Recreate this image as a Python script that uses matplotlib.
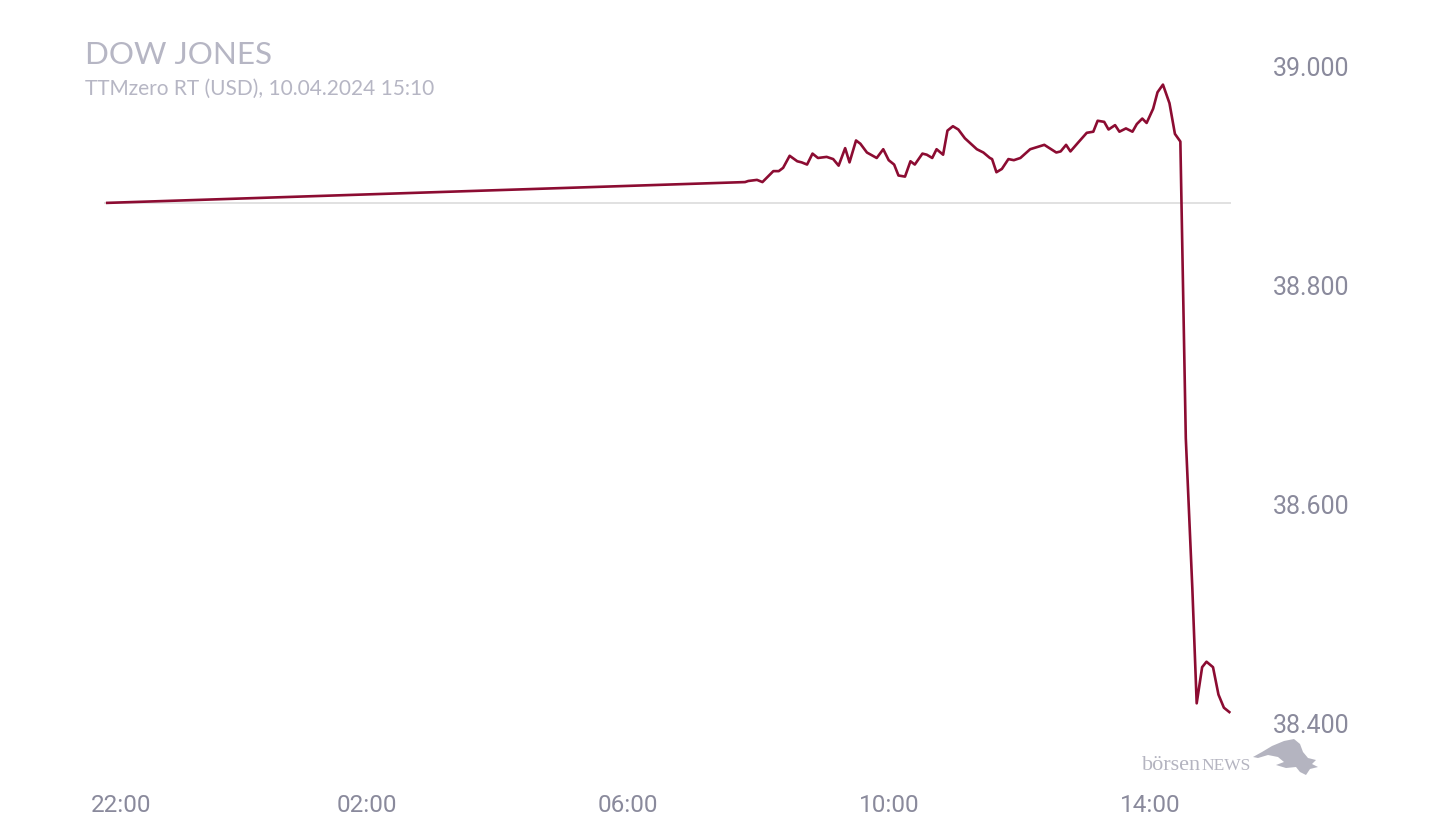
import numpy as np
import pandas as pd
import matplotlib
matplotlib.use("Agg")
import matplotlib.pyplot as plt
import matplotlib.dates as mdates
from matplotlib.patches import Polygon

# --- data ---
times = ["22:03", "07:49", "07:52", "08:00", "08:05", "08:15", "08:20", "08:24", "08:30", "08:37",
         "08:41", "08:46", "08:51", "08:56", "09:04", "09:10", "09:15", "09:21", "09:25", "09:31",
         "09:35", "09:41", "09:50", "09:56", "10:01", "10:06", "10:10", "10:16", "10:21", "10:25",
         "10:32", "10:36", "10:41", "10:45", "10:51", "10:55", "11:00", "11:05", "11:11", "11:22",
         "11:28", "11:34", "11:36", "11:40", "11:45", "11:51", "11:56", "12:02", "12:11", "12:24",
         "12:35", "12:39", "12:44", "12:48", "12:55", "13:03", "13:09", "13:13", "13:19", "13:23",
         "13:29", "13:33", "13:39", "13:45", "13:49", "13:54", "13:58", "14:04", "14:08", "14:13",
         "14:19", "14:24", "14:29", "14:34", "14:40", "14:44", "14:49", "14:53", "14:59", "15:04",
         "15:09", "15:14"]
prices = [38875, 38894, 38895, 38896, 38894, 38904, 38904, 38907, 38918, 38913,
          38912, 38910, 38920, 38916, 38917, 38915, 38909, 38925, 38912, 38932,
          38929, 38921, 38916, 38924, 38914, 38910, 38900, 38899, 38913, 38910,
          38920, 38919, 38916, 38924, 38919, 38941, 38945, 38942, 38934, 38924,
          38921, 38916, 38915, 38903, 38906, 38915, 38914, 38916, 38924, 38928,
          38921, 38922, 38928, 38922, 38930, 38939, 38940, 38950, 38949, 38942,
          38946, 38940, 38943, 38940, 38947, 38952, 38948, 38961, 38976, 38983,
          38966, 38938, 38931, 38660, 38523, 38418, 38451, 38456, 38451, 38426,
          38414, 38410]
prev_close = 38875
x_ticks = ["22:00", "02:00", "06:00", "10:00", "14:00"]
y_ticks = [38400, 38600, 38800, 39000]


def stamp(t):
    h = int(t[:2])
    day = "2024-04-09" if h >= 20 else "2024-04-10"
    return pd.Timestamp(f"{day} {t}")


ts = [stamp(t) for t in times]
tick_ts = [stamp(t) for t in x_ticks]

W, H = 1440, 840
fig = plt.figure(figsize=(14.4, 8.4), dpi=100)
ax_l, ax_r, ax_t, ax_b = 104, 1231, 40, 760
ax = fig.add_axes([ax_l / W, 1 - ax_b / H, (ax_r - ax_l) / W, (ax_b - ax_t) / H])

line_color = "#8c0c32"
grey_txt = "#8a8a9c"

ax.axhline(prev_close, color="#dcdcdc", lw=1.2, zorder=1)
ax.plot(ts, prices, color=line_color, lw=1.9, zorder=3, solid_joinstyle="round")

x0 = stamp("22:00")
ax.set_xlim(x0, x0 + pd.Timedelta(hours=(ax_r - ax_l) / 65.3))
ax.set_ylim(39000 - (ax_b - 66) * 0.9132, 39000 + (66 - ax_t) * 0.9132)

for s in ax.spines.values():
    s.set_visible(False)
ax.set_xticks([])
ax.yaxis.tick_right()
ax.set_yticks(y_ticks)
ax.set_yticklabels([f"{v/1000:.3f}" for v in y_ticks])
ax.tick_params(axis="y", length=0, pad=30, labelsize=18, labelcolor=grey_txt)
for lbl in ax.get_yticklabels():
    lbl.set_fontfamily("Roboto")

# x labels (the first one is nudged inside the chart, as in the original)
for i, (t, lab) in enumerate(zip(tick_ts, x_ticks)):
    ax.annotate(lab, xy=(mdates.date2num(t), 0), xycoords=("data", "axes fraction"),
                xytext=(12 if i == 0 else 1, -32.5), textcoords="offset points",
                ha="center", va="center", fontsize=17.5, color=grey_txt, family="Roboto")

# header
fig.text(85 / W, 1 - 55 / H, "DOW JONES", fontsize=22.6, color="#b6b6c4",
         family="Lato", ha="left", va="center")
fig.text(85 / W, 1 - 89 / H, "TTMzero RT (USD), 10.04.2024 15:10", fontsize=15,
         color="#b6b6c4", family="Lato", ha="left", va="center")

# watermark
logo_c = "#b4b4c0"
t1 = fig.text(1142 / W, 1 - 770 / H, "börsen", fontsize=16, color=logo_c,
              family="Liberation Serif", ha="left", va="baseline")
fig.canvas.draw()
bb = t1.get_window_extent()
fig.text(bb.x1 / W, 1 - 770 / H, "NEWS", fontsize=12.5, color=logo_c,
         family="Liberation Serif", ha="left", va="baseline")
bull = [(1253, 757), (1262, 752), (1272, 746), (1284, 741), (1294, 739), (1300, 744),
        (1303, 752), (1308, 758), (1316, 760), (1312, 764), (1318, 767), (1310, 769),
        (1306, 775), (1300, 772), (1296, 767), (1286, 768), (1276, 765), (1284, 762),
        (1278, 757), (1268, 755), (1258, 758)]
fig.patches.append(Polygon([(x / W, 1 - y / H) for x, y in bull], closed=True,
                           transform=fig.transFigure, facecolor=logo_c, edgecolor="none"))

fig.savefig("out.png", dpi=100, facecolor="white")
